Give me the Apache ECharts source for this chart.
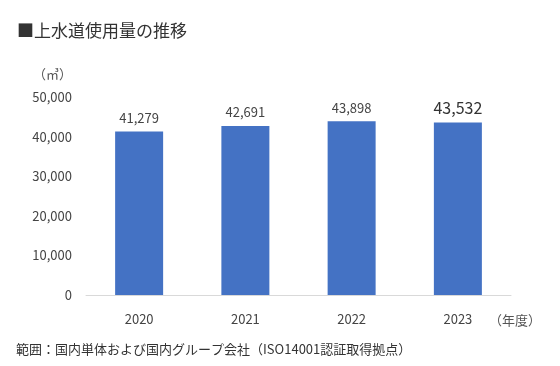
<!DOCTYPE html>
<html><head><meta charset="utf-8">
<script src="https://cdn.jsdelivr.net/npm/echarts@6/dist/echarts.min.js"></script>
<style>html,body{margin:0;padding:0;background:#fff}#c{width:560px;height:366px}</style>
</head><body><div id="c"></div>
<script>
const categories = ['2020', '2021', '2022', '2023'];
const values = [41279, 42691, 43898, 43532];
const yTicks = [0, 10000, 20000, 30000, 40000, 50000];
const FONT = '"Noto Sans CJK JP", "Noto Sans", sans-serif';
const chart = echarts.init(document.getElementById('c'), null, {renderer: 'canvas'});
const fmt = v => v.toLocaleString('en-US');
chart.setOption({
  animation: false,
  textStyle: {fontFamily: FONT},
  title: [
    {text: '■上水道使用量の推移', left: 12, top: 17, textStyle: {fontSize: 17, fontWeight: 'normal', color: '#333', fontFamily: FONT}},
    {text: '（㎥）', left: 28, top: 63, textStyle: {fontSize: 13, fontWeight: 'normal', color: '#555', fontFamily: FONT}},
    {text: '（年度）', left: 484, top: 309, textStyle: {fontSize: 13, fontWeight: 'normal', color: '#555', fontFamily: FONT}},
    {text: '範囲：国内単体および国内グループ会社（ISO14001認証取得拠点）', left: 11, top: 338, textStyle: {fontSize: 13, fontWeight: 'normal', color: '#333', fontFamily: FONT}}
  ],
  grid: {left: 86, right: 49, top: 97, bottom: 71, containLabel: false},
  xAxis: {
    type: 'category', data: categories,
    axisLine: {lineStyle: {color: '#d9d9d9'}},
    axisTick: {show: false},
    axisLabel: {color: '#444', fontSize: 13, margin: 18, fontFamily: FONT}
  },
  yAxis: {
    type: 'value', min: yTicks[0], max: yTicks[yTicks.length - 1], interval: yTicks[1] - yTicks[0],
    axisLine: {show: false}, axisTick: {show: false},
    splitLine: {show: false},
    axisLabel: {color: '#444', fontSize: 13, margin: 14, fontFamily: FONT, formatter: fmt}
  },
  series: [{
    type: 'bar', barWidth: 48,
    itemStyle: {color: '#4472C4'},
    data: values.map((v, i) => ({
      value: v,
      label: i === values.length - 1 ? {fontSize: 16, color: '#333'} : {}
    })),
    label: {show: true, position: 'top', distance: 7, color: '#444', fontSize: 13, fontFamily: FONT, formatter: p => fmt(p.value)}
  }]
});
</script></body></html>
